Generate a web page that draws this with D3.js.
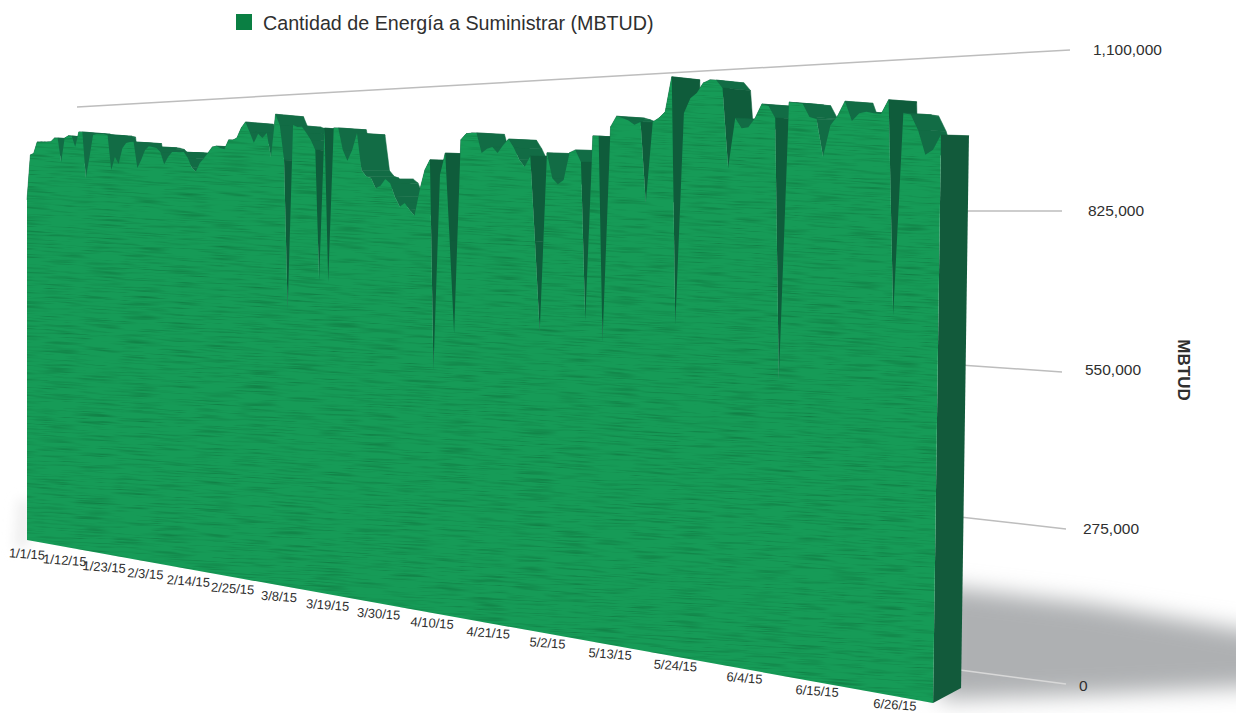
<!DOCTYPE html>
<html>
<head>
<meta charset="utf-8">
<title>Cantidad de Energía a Suministrar</title>
<script src="https://cdnjs.cloudflare.com/ajax/libs/d3/7.8.5/d3.min.js"></script>
<style>
  html, body { margin: 0; padding: 0; background: #fff; }
  svg { display: block; }
  text { font-family: "Liberation Sans", Arial, sans-serif; fill: #2f2f2f; }
</style>
</head>
<body>
<svg id="chart" width="1236" height="713"></svg>
<script>
const seriesName = 'Cantidad de Energía a Suministrar (MBTUD)'
const axisTitle = 'MBTUD'
const firstDay = '1/1/15'
const lastDay = '6/30/15'

const dateTicks = ['1/1/15', '1/12/15', '1/23/15', '2/3/15', '2/14/15', '2/25/15', '3/8/15', '3/19/15', '3/30/15',
  '4/10/15', '4/21/15', '5/2/15', '5/13/15', '5/24/15', '6/4/15', '6/15/15', '6/26/15']
const valueTicks = [0, 275000, 550000, 825000, 1100000]

// thousands of MBTUD, one per day
const energyJan = [866, 980, 984, 1012, 1012, 1011, 1011, 1011, 1020, 1020, 959, 1019, 1024, 1023, 996, 1032, 1032, 918, 969, 1023, 1025, 1024, 1024, 1021, 936, 967, 950, 988, 1000, 1002, 1002]
const energyFeb = [939, 958, 981, 990, 988, 985, 975, 946, 963, 974, 974, 973, 973, 959, 936, 926, 946, 957, 969, 982, 984, 979, 976, 997, 996, 1001, 1023, 1036]
const energyMar = [1013, 988, 1008, 998, 1009, 955, 1050, 1025, 947, 614, 1024, 1019, 1019, 1005, 989, 967, 682, 1014, 679, 1013, 1013, 965, 941, 964, 1000, 920, 907, 903, 881, 886, 900]
const energyApr = [891, 862, 841, 849, 834, 822, 875, 917, 938, 503, 906, 951, 770, 581, 977, 989, 990, 990, 949, 957, 960, 948, 963, 975, 957, 933, 918, 940, 770, 591]
const energyMay = [945, 895, 883, 891, 944, 949, 925, 619, 975, 974, 578, 991, 1011, 1007, 1002, 993, 998, 845, 997, 1004, 1015, 1080, 617, 1011, 1038, 1047, 1065, 1070, 1069, 1054, 907]
const energyJun = [998, 979, 980, 996, 1021, 1017, 995, 526, 1022, 1020, 1018, 994, 990, 923, 978, 994, 1019, 984, 997, 999, 996, 994, 1018, 649, 994, 991, 964, 922, 930, 955]

const energy = [...energyJan, ...energyFeb, ...energyMar, ...energyApr, ...energyMay, ...energyJun].map(d => d * 1000)

const parseDay = d3.utcParse('%m/%d/%y')
const days = d3.utcDay.range(parseDay(firstDay), d3.utcDay.offset(parseDay(lastDay), 1))
const data = days.map((day, i) => ({ day, value: energy[i] }))

const svg = d3.select('#chart')

// scales in plane coordinates, 0..1 on both
const xScale = d3.scaleUtc().domain([days[0], days[days.length - 1]]).range([0, 1])
const yScale = d3.scaleLinear().domain([0, 1100000]).range([0, 1])

// perspective of the front plane
const view = { x0: 27, y0: 540, height: 432, run: 598, drop: 107.6, lean: 6, recede: 0.34, depthX: 28, depthY: -15, depthRise: 18.4 }

function project (day, value, depth = 0) {
  const u = xScale(day)
  const w = yScale(value)
  const k = 1 - view.recede * u
  return [
    view.x0 + u * (view.run + view.lean * w) / k + depth * view.depthX,
    view.y0 + (view.drop * u - view.height * w) / k + depth * (view.depthY + view.depthRise * w)
  ]
}

const defs = svg.append('defs')

const grain = defs.append('filter').attr('id', 'grain')
  .attr('filterUnits', 'userSpaceOnUse').attr('x', -100).attr('y', -200).attr('width', 1500).attr('height', 1100)
  .attr('color-interpolation-filters', 'sRGB')
grain.append('feTurbulence').attr('type', 'fractalNoise').attr('baseFrequency', '0.025 0.75')
  .attr('numOctaves', 2).attr('seed', 4).attr('result', 'noise')
grain.append('feColorMatrix').attr('in', 'noise').attr('type', 'matrix')
  .attr('values', '0 0 0 0 0.05  0 0 0 0 0.42  0 0 0 0 0.22  1.5 0 0 0 -0.7')

defs.append('filter').attr('id', 'soft').attr('x', '-20%').attr('y', '-60%').attr('width', '140%').attr('height', '220%')
  .append('feGaussianBlur').attr('stdDeviation', 11)
defs.append('filter').attr('id', 'softer').attr('x', '-100%').attr('y', '-50%').attr('width', '300%').attr('height', '200%')
  .append('feGaussianBlur').attr('stdDeviation', 6)

const line = d3.line()

// floor shadow right of the block and a faint one on the left
svg.append('path')
  .attr('d', line([[940, 586], [1090, 604], [1300, 640], [1300, 684], [1100, 694], [940, 700]]) + 'Z')
  .attr('fill', '#aeb0b2')
  .attr('filter', 'url(#soft)')
svg.append('path')
  .attr('d', line([[18, 500], [30, 500], [30, 545], [14, 550]]) + 'Z')
  .attr('fill', '#eeeeee')
  .attr('filter', 'url(#softer)')

// grid lines, the top one runs along the back wall
const gridEndY = d3.scaleLinear().domain(valueTicks).range([684, 529, 372, 211, 50])
const gridStartY = d3.scaleLinear().domain(valueTicks).range([670, 517, 365, 211, 107])
const gridStartX = d3.scaleThreshold().domain([1100000]).range([960, 77])
const gridEndX = d3.scaleLinear().domain(valueTicks).range([1066, 1066, 1062, 1062, 1070])
const gridColor = d3.scaleThreshold().domain([275000]).range(['#d8d8d8', '#bdbdbd'])
const labelX = d3.scaleLinear().domain(valueTicks).range([1079, 1083, 1085, 1088, 1093])
const labelY = d3.scaleLinear().domain(valueTicks).range([686, 529, 370, 211, 50])

svg.append('g').selectAll('line')
  .data(valueTicks)
  .enter().append('line')
  .attr('x1', d => gridStartX(d))
  .attr('y1', d => gridStartY(d))
  .attr('x2', d => gridEndX(d))
  .attr('y2', d => gridEndY(d))
  .attr('stroke', d => gridColor(d))
  .attr('stroke-width', 1.5)

svg.append('g').selectAll('text')
  .data(valueTicks)
  .enter().append('text')
  .attr('x', d => labelX(d))
  .attr('y', d => labelY(d))
  .attr('dy', '0.35em')
  .attr('font-size', 15.5)
  .text(d => d3.format(',')(d))

// top surface of the extrusion, one quad per day
const segments = d3.pairs(data).map(([a, b]) => {
  const quad = [project(a.day, a.value), project(b.day, b.value), project(b.day, b.value, 1), project(a.day, a.value, 1)]
  return { quad, fall: quad[1][1] - quad[0][1] }
})
const faceColor = d => {
  if (d.fall < 0) return '#10603f'
  return d.fall > 60 ? '#0f5c3b' : '#126c45'
}

const block = svg.append('g')
block.selectAll('path.rising')
  .data(segments.filter(d => d.fall < 0))
  .enter().append('path')
  .attr('class', 'rising')
  .attr('d', d => line(d.quad) + 'Z')
  .attr('fill', d => faceColor(d))
  .attr('stroke', d => faceColor(d))
  .attr('stroke-width', 0.5)
block.selectAll('path.falling')
  .data(segments.filter(d => d.fall >= 0))
  .enter().append('path')
  .attr('class', 'falling')
  .attr('d', d => line(d.quad) + 'Z')
  .attr('fill', d => faceColor(d))
  .attr('stroke', d => faceColor(d))
  .attr('stroke-width', 0.5)

// end face
const last = data[data.length - 1]
block.append('path')
  .attr('d', line([project(last.day, 0), project(last.day, last.value), project(last.day, last.value, 1), project(last.day, 0, 1)]) + 'Z')
  .attr('fill', '#125a3b')

// front face
const outline = [
  project(data[0].day, 0),
  ...data.map(d => project(d.day, d.value)),
  project(last.day, 0)
]
const frontPath = line(outline) + 'Z'
block.append('path')
  .attr('d', frontPath)
  .attr('fill', '#169b57')

// paper-like streaks, clipped to the front face and tilted a little
defs.append('clipPath').attr('id', 'frontClip').append('path').attr('d', frontPath)
block.append('g')
  .attr('clip-path', 'url(#frontClip)')
  .append('rect')
  .attr('x', -100).attr('y', -200).attr('width', 1500).attr('height', 1100)
  .attr('transform', 'rotate(3 600 400)')
  .attr('filter', 'url(#grain)')

// date labels follow the bottom edge
const labelShiftX = d3.scaleLinear().domain([0, 0.25, 0.5, 0.73, 0.855, 0.97, 1]).range([0, 2, 1, -1, -4, -8, -8])
const labelShiftY = d3.scaleLinear().domain([0, 1]).range([14, 7])

svg.append('g').selectAll('text')
  .data(dateTicks)
  .enter().append('text')
  .attr('text-anchor', 'middle')
  .attr('dy', '0.35em')
  .attr('font-size', 13)
  .attr('transform', d => {
    const day = parseDay(d)
    const [x, y] = project(day, 0)
    const u = xScale(day)
    return `translate(${x + labelShiftX(u)},${y + labelShiftY(u)}) rotate(4)`
  })
  .text(d => d)

// axis title
svg.append('text')
  .attr('transform', 'translate(1184,370) rotate(90)')
  .attr('text-anchor', 'middle')
  .attr('dy', '0.35em')
  .attr('font-size', 17)
  .attr('font-weight', 'bold')
  .text(axisTitle)

// legend
const legend = svg.append('g').attr('transform', 'translate(236,14)')
legend.append('rect').attr('width', 16).attr('height', 16).attr('fill', '#0a7f43')
legend.append('text')
  .attr('x', 27)
  .attr('y', 9)
  .attr('dy', '0.35em')
  .attr('font-size', 19.7)
  .text(seriesName)
</script>
</body>
</html>
